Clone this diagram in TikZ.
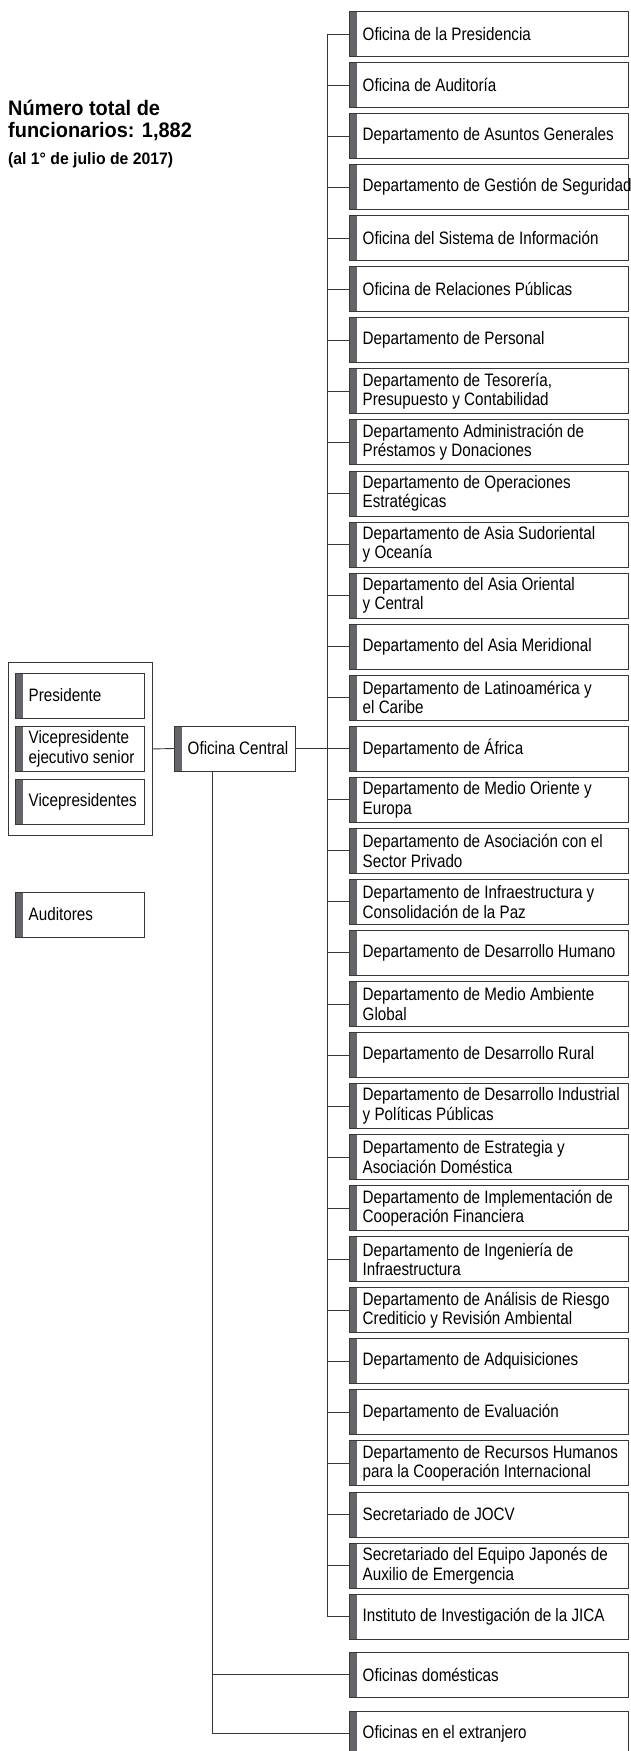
\documentclass[tikz,border=0pt]{standalone}
\usepackage{fontspec}
\setmainfont{Liberation Sans}[FakeStretch=0.845]
\newfontfamily\titlefont{Liberation Sans}[FakeStretch=0.95]
\definecolor{barcol}{RGB}{100,101,104}
\definecolor{linecol}{RGB}{55,55,55}
\begin{document}
\begin{tikzpicture}[x=1pt,y=-1pt,
  box/.style={draw=linecol, line width=0.9pt, anchor=north west, inner sep=0pt, outer sep=0pt,
    minimum height=45pt,
    path picture={\fill[barcol] (path picture bounding box.north west) rectangle ([xshift=7.5pt]path picture bounding box.south west);}},
  rbox/.style={box, minimum width=279pt},
  lbox/.style={box, minimum width=129pt},
  lab/.style={anchor=west, xshift=13.5pt, align=left, inner sep=0pt,
    font=\fontsize{18}{19.5}\selectfont},
  conn/.style={draw=linecol, line width=0.9pt},
  ttl/.style={anchor=base west, inner sep=0pt, font=\titlefont\bfseries\fontsize{21}{22}\selectfont}]
\useasboundingbox (0,0) rectangle (631,1751);

% title
\node[ttl] (t1) at (8,115) {Número total de};
\node[ttl] (t2) at (8,137) {funcionarios: 1,882};
\node[ttl, font=\titlefont\bfseries\fontsize{16.6}{18}\selectfont] (t3) at (8,164) {(al 1° de julio de 2017)};

% left group
\node[draw=linecol, line width=0.9pt, anchor=north west, inner sep=0pt, minimum width=144pt, minimum height=173pt] (lg) at (8,662) {};
\node[lbox, label={[lab]west:Presidente}] (pres) at (15,673) {};
\node[lbox, label={[lab, font=\fontsize{18}{20}\selectfont]west:{Vicepresidente\\ejecutivo senior}}] (vpe) at (15,726) {};
\node[lbox, label={[lab]west:Vicepresidentes}] (vps) at (15,779) {};
\node[lbox, label={[lab]west:Auditores}] (aud) at (15,892) {};

% central office
\node[box, minimum width=121pt, label={[lab]west:Oficina Central}] (oc) at (174,726) {};

% right boxes
\node[rbox, label={[lab]west:Oficina de la Presidencia}] (r1) at (349,11.5) {};
\node[rbox, label={[lab]west:Oficina de Auditoría}] (r2) at (349,62.55) {};
\node[rbox, label={[lab]west:Departamento de Asuntos Generales}] (r3) at (349,113.6) {};
\node[rbox, label={[lab]west:Departamento de Gestión de Seguridad}] (r4) at (349,164.65) {};
\node[rbox, label={[lab]west:Oficina del Sistema de Información}] (r5) at (349,215.7) {};
\node[rbox, label={[lab]west:Oficina de Relaciones Públicas}] (r6) at (349,266.75) {};
\node[rbox, label={[lab]west:Departamento de Personal}] (r7) at (349,317.8) {};
\node[rbox, label={[lab]west:{Departamento de Tesorería,\\Presupuesto y Contabilidad}}] (r8) at (349,368.85) {};
\node[rbox, label={[lab]west:{Departamento Administración de\\Préstamos y Donaciones}}] (r9) at (349,419.9) {};
\node[rbox, label={[lab]west:{Departamento de Operaciones\\Estratégicas}}] (r10) at (349,470.95) {};
\node[rbox, label={[lab]west:{Departamento de Asia Sudoriental\\y Oceanía}}] (r11) at (349,522.0) {};
\node[rbox, label={[lab]west:{Departamento del Asia Oriental\\y Central}}] (r12) at (349,573.05) {};
\node[rbox, label={[lab]west:Departamento del Asia Meridional}] (r13) at (349,624.1) {};
\node[rbox, label={[lab]west:{Departamento de Latinoamérica y\\el Caribe}}] (r14) at (349,675.15) {};
\node[rbox, label={[lab]west:Departamento de África}] (r15) at (349,726.2) {};
\node[rbox, label={[lab]west:{Departamento de Medio Oriente y\\Europa}}] (r16) at (349,777.25) {};
\node[rbox, label={[lab]west:{Departamento de Asociación con el\\Sector Privado}}] (r17) at (349,828.3) {};
\node[rbox, label={[lab]west:{Departamento de Infraestructura y\\Consolidación de la Paz}}] (r18) at (349,879.35) {};
\node[rbox, label={[lab]west:Departamento de Desarrollo Humano}] (r19) at (349,930.4) {};
\node[rbox, label={[lab]west:{Departamento de Medio Ambiente\\Global}}] (r20) at (349,981.45) {};
\node[rbox, label={[lab]west:Departamento de Desarrollo Rural}] (r21) at (349,1032.5) {};
\node[rbox, label={[lab]west:{Departamento de Desarrollo Industrial\\y Políticas Públicas}}] (r22) at (349,1083.55) {};
\node[rbox, label={[lab]west:{Departamento de Estrategia y\\Asociación Doméstica}}] (r23) at (349,1134.6) {};
\node[rbox, label={[lab]west:{Departamento de Implementación de\\Cooperación Financiera}}] (r24) at (349,1185.65) {};
\node[rbox, label={[lab]west:{Departamento de Ingeniería de\\Infraestructura}}] (r25) at (349,1236.7) {};
\node[rbox, label={[lab]west:{Departamento de Análisis de Riesgo\\Crediticio y Revisión Ambiental}}] (r26) at (349,1287.75) {};
\node[rbox, label={[lab]west:Departamento de Adquisiciones}] (r27) at (349,1338.8) {};
\node[rbox, label={[lab]west:Departamento de Evaluación}] (r28) at (349,1389.85) {};
\node[rbox, label={[lab]west:{Departamento de Recursos Humanos\\para la Cooperación Internacional}}] (r29) at (349,1440.9) {};
\node[rbox, label={[lab]west:Secretariado de JOCV}] (r30) at (349,1491.95) {};
\node[rbox, label={[lab]west:{Secretariado del Equipo Japonés de\\Auxilio de Emergencia}}] (r31) at (349,1543.0) {};
\node[rbox, label={[lab]west:Instituto de Investigación de la JICA}] (r32) at (349,1594.05) {};
\node[rbox, label={[lab]west:Oficinas domésticas}] (od) at (349,1652) {};
\node[rbox, label={[lab]west:Oficinas en el extranjero}] (oe) at (349,1711) {};

% connectors
\coordinate (spine) at (327,0);
\draw[conn] (r1.west -| spine) -- (r32.west -| spine);
\foreach \i in {1,...,32} {\draw[conn] (r\i.west) -- (r\i.west -| spine);}
\draw[conn] (oc.east) -- (oc.east -| spine);
\draw[conn] (lg.east) -- (oc.west);
\coordinate (ocb) at ([xshift=38pt]oc.south west);
\draw[conn] (ocb) |- (oe.west);
\draw[conn] (ocb) |- (od.west);
\end{tikzpicture}
\end{document}
